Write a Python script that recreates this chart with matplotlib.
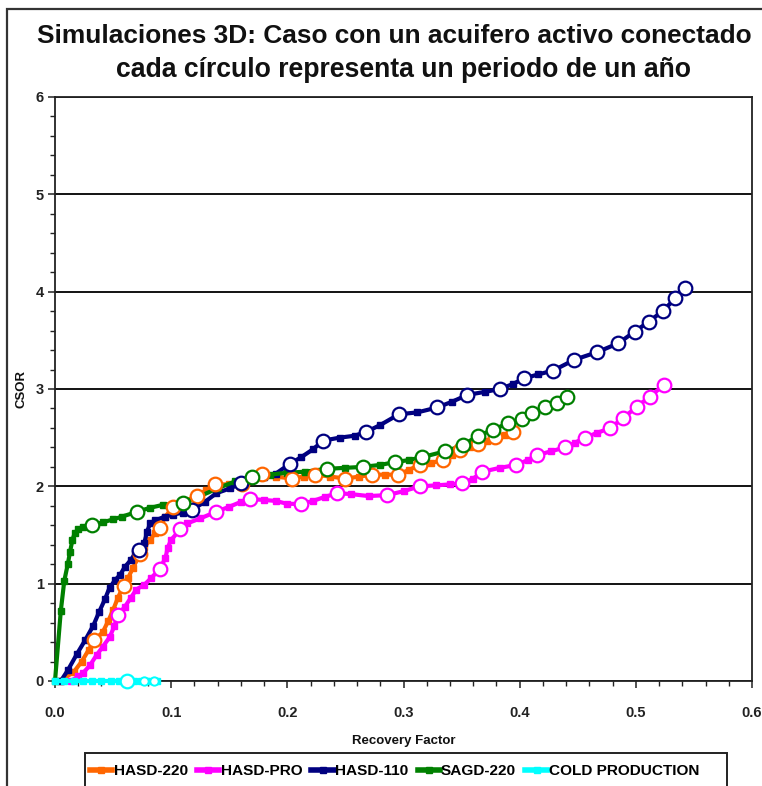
import matplotlib
matplotlib.use("Agg")
import matplotlib.pyplot as plt
from matplotlib.lines import Line2D
from matplotlib.patches import Rectangle
from matplotlib import font_manager

# ---------------- data ----------------
hasd220_x = [0.004, 0.016, 0.023, 0.029, 0.034, 0.041, 0.046, 0.050, 0.054, 0.059, 0.063, 0.067,
             0.073, 0.077, 0.082, 0.086, 0.090, 0.095, 0.102, 0.110, 0.122, 0.130, 0.138, 0.150,
             0.161, 0.170, 0.178, 0.190, 0.204, 0.214, 0.224, 0.237, 0.250, 0.262, 0.273, 0.284,
             0.295, 0.305, 0.314, 0.324, 0.334, 0.342, 0.349, 0.357, 0.364, 0.372, 0.379, 0.387, 0.394]
hasd220_y = [0.00, 0.09, 0.20, 0.32, 0.42, 0.50, 0.62, 0.73, 0.85, 0.98, 1.06, 1.16,
             1.30, 1.38, 1.45, 1.52, 1.57, 1.69, 1.79, 1.84, 1.90, 1.96, 2.02, 2.02,
             2.02, 2.08, 2.13, 2.10, 2.08, 2.10, 2.12, 2.10, 2.08, 2.10, 2.12, 2.12,
             2.12, 2.17, 2.22, 2.24, 2.27, 2.32, 2.37, 2.40, 2.43, 2.47, 2.51, 2.53, 2.56]
hasd220_cx = [0.034, 0.059, 0.073, 0.090, 0.102, 0.122, 0.138, 0.161, 0.178, 0.204, 0.224, 0.250,
              0.273, 0.295, 0.314, 0.334, 0.349, 0.364, 0.379, 0.394]
hasd220_cy = [0.42, 0.98, 1.30, 1.57, 1.79, 1.90, 2.02, 2.02, 2.13, 2.08, 2.12, 2.08,
              2.12, 2.12, 2.22, 2.27, 2.37, 2.43, 2.51, 2.56]

hasdpro_x = [0.014, 0.020, 0.024, 0.030, 0.036, 0.041, 0.047, 0.051, 0.054, 0.060, 0.065, 0.070,
             0.077, 0.083, 0.090, 0.095, 0.097, 0.100, 0.108, 0.114, 0.125, 0.139, 0.150, 0.160,
             0.168, 0.180, 0.190, 0.200, 0.212, 0.222, 0.232, 0.243, 0.255, 0.270, 0.286, 0.300,
             0.314, 0.328, 0.340, 0.350, 0.360, 0.368, 0.383, 0.397, 0.407, 0.415, 0.427, 0.439,
             0.448, 0.456, 0.467, 0.478, 0.489, 0.501, 0.512, 0.524]
hasdpro_y = [0.00, 0.05, 0.08, 0.16, 0.27, 0.35, 0.45, 0.56, 0.68, 0.76, 0.85, 0.94,
             0.99, 1.06, 1.15, 1.26, 1.37, 1.45, 1.56, 1.62, 1.67, 1.74, 1.79, 1.84,
             1.87, 1.86, 1.85, 1.82, 1.82, 1.85, 1.89, 1.93, 1.92, 1.90, 1.91, 1.95,
             2.00, 2.01, 2.02, 2.03, 2.08, 2.15, 2.19, 2.22, 2.27, 2.32, 2.36, 2.40,
             2.45, 2.50, 2.55, 2.60, 2.70, 2.82, 2.92, 3.04]
hasdpro_cx = [0.054, 0.090, 0.108, 0.139, 0.168, 0.212, 0.243, 0.286, 0.314, 0.350, 0.368, 0.397,
              0.415, 0.439, 0.456, 0.478, 0.489, 0.501, 0.512, 0.524]
hasdpro_cy = [0.68, 1.15, 1.56, 1.74, 1.87, 1.82, 1.93, 1.91, 2.00, 2.03, 2.15, 2.22,
              2.32, 2.40, 2.50, 2.60, 2.70, 2.82, 2.92, 3.04]

hasd110_x = [0.005, 0.011, 0.019, 0.026, 0.033, 0.038, 0.043, 0.047, 0.052, 0.056, 0.060, 0.065,
             0.069, 0.072, 0.077, 0.079, 0.082, 0.086, 0.095, 0.102, 0.110, 0.118, 0.129, 0.139,
             0.151, 0.160, 0.170, 0.180, 0.190, 0.202, 0.212, 0.222, 0.231, 0.245, 0.258, 0.268,
             0.280, 0.296, 0.312, 0.329, 0.342, 0.355, 0.370, 0.383, 0.394, 0.404, 0.416, 0.429,
             0.447, 0.467, 0.485, 0.499, 0.511, 0.523, 0.534, 0.542]
hasd110_y = [0.00, 0.11, 0.28, 0.42, 0.57, 0.71, 0.84, 0.96, 1.04, 1.09, 1.17, 1.24,
             1.31, 1.35, 1.42, 1.53, 1.62, 1.65, 1.69, 1.71, 1.73, 1.76, 1.84, 1.93,
             1.98, 2.03, 2.07, 2.10, 2.13, 2.23, 2.30, 2.38, 2.47, 2.50, 2.52, 2.56,
             2.63, 2.74, 2.76, 2.81, 2.87, 2.94, 2.97, 3.00, 3.05, 3.11, 3.15, 3.19,
             3.30, 3.38, 3.47, 3.59, 3.69, 3.80, 3.93, 4.04]
hasd110_cx = [0.072, 0.118, 0.160, 0.202, 0.231, 0.268, 0.296, 0.329, 0.355, 0.383, 0.404, 0.429,
              0.447, 0.467, 0.485, 0.499, 0.511, 0.523, 0.534, 0.542]
hasd110_cy = [1.35, 1.76, 2.03, 2.23, 2.47, 2.56, 2.74, 2.81, 2.94, 3.00, 3.11, 3.19,
              3.30, 3.38, 3.47, 3.59, 3.69, 3.80, 3.93, 4.04]

sagd220_x = [0.000, 0.005, 0.008, 0.011, 0.013, 0.015, 0.017, 0.020, 0.024, 0.032, 0.041, 0.050,
             0.058, 0.071, 0.082, 0.093, 0.110, 0.125, 0.140, 0.155, 0.170, 0.185, 0.200, 0.215,
             0.234, 0.250, 0.265, 0.280, 0.293, 0.305, 0.316, 0.336, 0.351, 0.364, 0.377, 0.390,
             0.402, 0.411, 0.422, 0.432, 0.441]
sagd220_y = [0.00, 0.72, 1.03, 1.20, 1.33, 1.45, 1.52, 1.56, 1.58, 1.60, 1.63, 1.66,
             1.69, 1.74, 1.78, 1.81, 1.83, 1.90, 1.98, 2.05, 2.10, 2.12, 2.14, 2.15,
             2.18, 2.19, 2.20, 2.22, 2.25, 2.27, 2.30, 2.36, 2.42, 2.52, 2.58, 2.65,
             2.69, 2.75, 2.81, 2.86, 2.92]
sagd220_cx = [0.032, 0.071, 0.110, 0.170, 0.234, 0.265, 0.293, 0.316, 0.336, 0.351, 0.364, 0.377,
              0.390, 0.402, 0.411, 0.422, 0.432, 0.441]
sagd220_cy = [1.60, 1.74, 1.83, 2.10, 2.18, 2.20, 2.25, 2.30, 2.36, 2.42, 2.52, 2.58,
              2.65, 2.69, 2.75, 2.81, 2.86, 2.92]

cold_x = [0.000, 0.008, 0.016, 0.024, 0.032, 0.040, 0.048, 0.055, 0.062, 0.068, 0.074, 0.078,
          0.082, 0.086, 0.088]
cold_y = [0.0] * len(cold_x)
cold_cx = [0.062]
cold_cy = [0.0]
cold_small_cx = [0.077, 0.085]
cold_small_cy = [0.0, 0.0]

series_names = ["HASD-220", "HASD-PRO", "HASD-110", "SAGD-220", "COLD PRODUCTION"]
series_colors = ["#FF6600", "#FF00FF", "#000080", "#008000", "#00FFFF"]

title_lines = ["Simulaciones 3D: Caso con un acuifero activo conectado",
               "cada círculo representa un periodo de un año"]
x_label = "Recovery Factor"
y_label = "CSOR"
x_ticks = [0.0, 0.1, 0.2, 0.3, 0.4, 0.5, 0.6]
x_tick_labels = ["0.0", "0.1", "0.2", "0.3", "0.4", "0.5", "0.6"]
y_ticks = [0, 1, 2, 3, 4, 5, 6]

# ---------------- fonts ----------------
names = {f.name for f in font_manager.fontManager.ttflist}
narrow = "Liberation Sans Narrow" if "Liberation Sans Narrow" in names else "Liberation Sans"
fam_narrow = [narrow, "Liberation Sans", "DejaVu Sans"]
fam_reg = ["Liberation Sans", "DejaVu Sans"]

W, H = 762, 786
fig = plt.figure(figsize=(W / 100, H / 100), dpi=100)
fig.patch.set_facecolor("white")

def fx(px):
    return px / W

def fy(py):
    return (H - py) / H

ax = fig.add_axes([fx(55), fy(681), fx(752) - fx(55), fy(97) - fy(681)])
ax.set_xlim(0, 0.6)
ax.set_ylim(0, 6)

all_series = [
    (hasd220_x, hasd220_y, hasd220_cx, hasd220_cy),
    (hasdpro_x, hasdpro_y, hasdpro_cx, hasdpro_cy),
    (hasd110_x, hasd110_y, hasd110_cx, hasd110_cy),
    (sagd220_x, sagd220_y, sagd220_cx, sagd220_cy),
    (cold_x, cold_y, cold_cx, cold_cy),
]

for i, ((xs, ys, cx, cy), col) in enumerate(zip(all_series, series_colors)):
    ax.plot(xs, ys, color=col, lw=3.0, marker="s", ms=4.4, mec=col, mfc=col,
            zorder=3 + i * 0.1, clip_on=False)
for i, ((xs, ys, cx, cy), col) in enumerate(zip(all_series, series_colors)):
    ax.plot(cx, cy, ls="none", marker="o", ms=9.8, mfc="white", mec=col, mew=1.6,
            zorder=4 + i * 0.1, clip_on=False)
ax.plot(cold_small_cx, cold_small_cy, ls="none", marker="o", ms=6, mfc="white",
        mec=series_colors[4], mew=1.4, zorder=4.5, clip_on=False)

# grid / axes styling
ax.set_yticks(y_ticks)
ax.set_yticks([v / 5 for v in range(31)], minor=True)
ax.set_xticks(x_ticks)
ax.set_xticks([v / 50 for v in range(31)], minor=True)
ax.set_xticklabels(x_tick_labels)
ax.yaxis.grid(True, which="major", color="black", lw=1.3)
ax.set_axisbelow(True)
for s in ax.spines.values():
    s.set_color("#222222")
    s.set_linewidth(1.3)
ax.tick_params(axis="both", which="major", direction="out", length=5, width=1.1,
               color="#222222", labelsize=10.5, pad=3)
ax.tick_params(axis="both", which="minor", direction="out", length=3.5, width=1.0,
               color="#222222")
for lab in ax.get_xticklabels() + ax.get_yticklabels():
    lab.set_family(fam_narrow)
    lab.set_fontweight("bold")
    lab.set_color("#222222")
ax.tick_params(axis="x", pad=13)

ax.set_xlabel(x_label, family=fam_narrow, fontweight="bold", fontsize=9.5, labelpad=11,
              color="#111111")
ax.set_ylabel(y_label, family=fam_reg, fontweight="bold", fontsize=9.5, color="#111111")
ax.yaxis.set_label_coords((27 - 55) / 697, 0.5)

# title
fig.text(fx(394), fy(43), title_lines[0], ha="center", va="baseline", family=fam_narrow,
         fontweight="bold", fontsize=18.9, color="#111111")
fig.text(fx(404), fy(77), title_lines[1], ha="center", va="baseline", family=fam_narrow,
         fontweight="bold", fontsize=19.2, color="#111111")

# outer chart border (cut by figure edge)
fig.patches.append(Rectangle((fx(7), -0.05), 1.2, fy(9) + 0.05, transform=fig.transFigure,
                             fill=False, ec="#333333", lw=1.6, clip_on=False))
# legend box
fig.patches.append(Rectangle((fx(85), -0.05), fx(727) - fx(85), fy(753) + 0.05,
                             transform=fig.transFigure, fill=False, ec="#222222", lw=1.4,
                             clip_on=False))

handles = [Line2D([0], [0], color=c, lw=4, marker="s", ms=4, mfc=c, mec=c)
           for c in series_colors]
leg = fig.legend(handles, series_names, loc="center left", bbox_to_anchor=(fx(90), fy(771)),
                 ncol=5, frameon=False, handlelength=1.45, handletextpad=0.08,
                 columnspacing=0.6, borderaxespad=0, borderpad=0,
                 prop=dict(family=fam_narrow, weight="bold", size=11.1))

fig.savefig("out.png", dpi=100, facecolor="white")
